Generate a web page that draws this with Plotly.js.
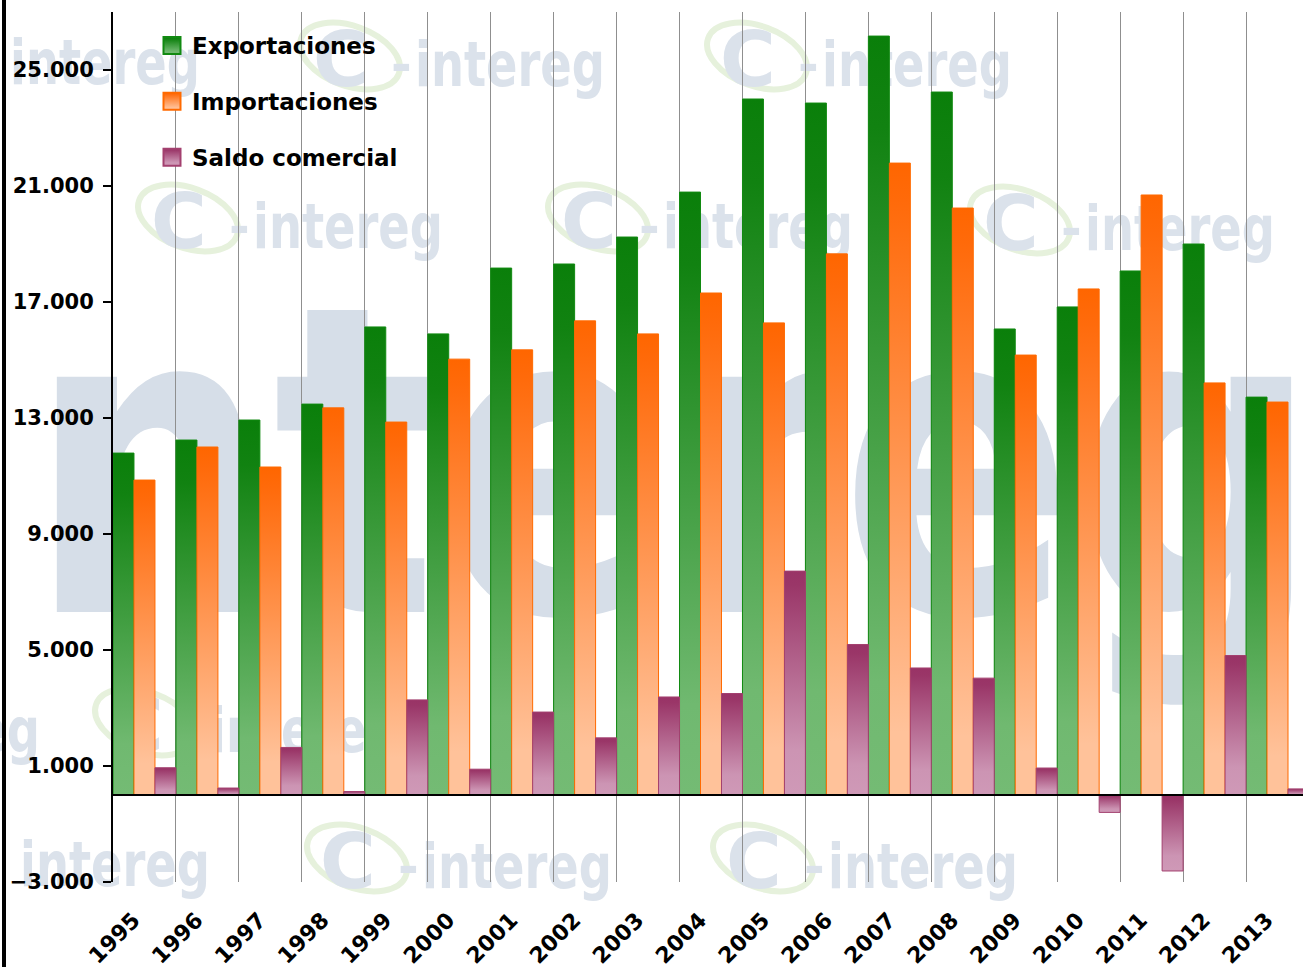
<!DOCTYPE html>
<html>
<head>
<meta charset="utf-8">
<script src="https://cdn.plot.ly/plotly-3.0.1.min.js"></script>
<style>
  html, body { margin: 0; padding: 0; background: #ffffff; }
  #chart { width: 1303px; height: 967px; }
</style>
</head>
<body>
<div id="chart"></div>
<script>
// ---- Data (millones) ----
const years = ['1995','1996','1997','1998','1999','2000','2001','2002','2003','2004',
               '2005','2006','2007','2008','2009','2010','2011','2012','2013'];
const exportaciones = [11790, 12240, 12930, 13480, 16140, 15900, 18170, 18310, 19240, 20790,
                       24000, 23860, 26170, 24240, 16070, 16830, 18070, 19000, 13720];
const importaciones = [10860, 12000, 11310, 13350, 12860, 15030, 15350, 16350, 15900, 17310,
                       16280, 18660, 21790, 20240, 15170, 17450, 20690, 14210, 13550];
const saldo = [940, 240, 1640, 120, 3280, 890, 2860, 1970, 3380, 3500,
               7720, 5190, 4380, 4030, 930, -600, -2620, 4810, 210];
const seriesNames = ['Exportaciones', 'Importaciones', 'Saldo comercial'];
const tickVals = [-3000, 1000, 5000, 9000, 13000, 17000, 21000, 25000];

// ---- styling ----
const gradStops = [
  [['0', '#0a7f0a'], ['0.12', '#118211'], ['0.85', '#70b970'], ['1', '#74bb74']],
  [['0', '#ff6600'], ['0.06', '#ff6a0a'], ['0.9', '#ffc29a'], ['1', '#ffc29a']],
  [['0', '#993366'], ['0.06', '#9a3668'], ['0.8', '#cc94b3'], ['1', '#cf99b7']]
];
const solid = ['#3f9a3f', '#ff9555', '#b6668e'];
const edge = ['#118a11', '#ff6a00', '#a3406f'];

const W = 1303, H = 967, L = 113, R = 0, T = 12, B = 85;
const pw = W - L - R, ph = H - T - B;
const FONT = 'Verdana, DejaVu Sans, sans-serif';

// watermark (background logo text)
const wmCol = '#dbe2eb';
function wm(x, y, withC) {
  let s = '';
  if (withC) {
    s += `<ellipse cx='${x+45}' cy='${y-30}' rx='52' ry='30' fill='none' stroke='#e6f1dc' stroke-width='6' transform='rotate(20 ${x+45} ${y-30})'/>`;
    s += `<text x='${x+8}' y='${y}' font-family='DejaVu Sans' font-weight='bold' font-size='76' fill='${wmCol}'>C</text>`;
    s += `<text x='${x+86}' y='${y-4}' font-family='DejaVu Sans' font-weight='bold' font-size='50' fill='${wmCol}'>-</text>`;
    x += 110;
  }
  s += `<text x='${x}' y='${y}' font-family='DejaVu Sans' font-weight='bold' font-size='62' fill='${wmCol}' textLength='190' lengthAdjust='spacingAndGlyphs'>intereg</text>`;
  return s;
}
let svg = `<svg xmlns='http://www.w3.org/2000/svg' width='${W}' height='${H}' viewBox='0 0 ${W} ${H}'>`;
svg += `<text x='-90' y='612' font-family='DejaVu Sans' font-weight='bold' font-size='430' fill='#d6dee8' textLength='1410' lengthAdjust='spacingAndGlyphs'>intereg</text>`;
svg += wm(10, 84, false) + wm(305, 86, true) + wm(712, 86, true);
svg += wm(143, 248, true) + wm(553, 248, true) + wm(975, 250, true);
svg += wm(-150, 752, false) + wm(100, 752, true);
svg += wm(20, 886, false) + wm(312, 888, true) + wm(718, 888, true);
svg += `</svg>`;
const wmSrc = 'data:image/svg+xml;charset=utf-8,' + encodeURIComponent(svg);

const traces = [exportaciones, importaciones, saldo].map((vals, i) => ({
  type: 'bar',
  name: seriesNames[i],
  x: years,
  y: vals,
  legendgroup: 'g' + i,
  marker: { color: solid[i], line: { color: edge[i], width: 1 } },
  hoverinfo: 'x+y+name'
}));

const layout = {
  width: W, height: H,
  margin: { l: L, r: R, t: T, b: B, pad: 0 },
  paper_bgcolor: '#ffffff',
  plot_bgcolor: 'rgba(0,0,0,0)',
  barmode: 'group',
  bargap: 0,
  bargroupgap: 0,
  separators: ',.',
  font: { family: FONT, color: '#000000' },
  showlegend: true,
  legend: {
    x: (152 - L) / pw, y: (H - B - 24) / ph,
    xanchor: 'left', yanchor: 'top',
    bgcolor: 'rgba(0,0,0,0)',
    font: { size: 23, family: FONT, weight: 'bold', color: '#000' },
    tracegroupgap: 23,
    itemsizing: 'constant'
  },
  xaxis: {
    type: 'category',
    range: [-0.5, 18.5 - 6 / 63],
    tickson: 'boundaries',
    tickvals: years,
    ticktext: years.map(y => y + '\u00A0\u00A0'),
    showgrid: true, gridcolor: '#8f8f8f', gridwidth: 1,
    ticks: '', showline: false, zeroline: false,
    tickangle: -45,
    ticklabelstandoff: 9,
    tickfont: { size: 22, family: FONT, weight: 'bold', color: '#000' },
    fixedrange: true
  },
  yaxis: {
    range: [-3000, 27000],
    tickvals: tickVals,
    tickformat: ',d',
    showgrid: false,
    zeroline: false,
    showline: true, linecolor: '#000000', linewidth: 2,
    ticks: 'outside', ticklen: 8, tickcolor: '#000', tickwidth: 1.5,
    ticklabelstandoff: 5,
    tickfont: { size: 21, family: FONT, weight: 'bold', color: '#000' },
    fixedrange: true
  },
  images: [{
    source: wmSrc, xref: 'paper', yref: 'paper',
    x: -L / pw, y: 1 + T / ph, sizex: W / pw, sizey: H / ph,
    xanchor: 'left', yanchor: 'top', sizing: 'stretch', layer: 'below', opacity: 1
  }],
  shapes: [
    { type: 'line', xref: 'paper', yref: 'paper',
      x0: (4 - L) / pw, x1: (4 - L) / pw, y0: -B / ph, y1: 1 + T / ph,
      line: { color: '#000', width: 4 } },
    { type: 'line', xref: 'paper', yref: 'y', layer: 'above',
      x0: 0, x1: 1, y0: 0, y1: 0,
      line: { color: '#000', width: 2 } }
  ]
};

const gd = document.getElementById('chart');

function applyGradients() {
  const svgEl = gd.querySelector('svg.main-svg');
  if (!svgEl) return;
  let defs = svgEl.querySelector('defs');
  if (!defs) {
    defs = document.createElementNS('http://www.w3.org/2000/svg', 'defs');
    svgEl.insertBefore(defs, svgEl.firstChild);
  }
  gradStops.forEach((stops, i) => {
    const id = 'barGrad' + i;
    if (!document.getElementById(id)) {
      const lg = document.createElementNS('http://www.w3.org/2000/svg', 'linearGradient');
      lg.setAttribute('id', id);
      lg.setAttribute('x1', '0'); lg.setAttribute('y1', '0');
      lg.setAttribute('x2', '0'); lg.setAttribute('y2', '1');
      stops.forEach(([off, col]) => {
        const st = document.createElementNS('http://www.w3.org/2000/svg', 'stop');
        st.setAttribute('offset', off);
        st.setAttribute('stop-color', col);
        lg.appendChild(st);
      });
      defs.appendChild(lg);
    }
  });
  gd.querySelectorAll('.barlayer .trace').forEach((tr, i) => {
    tr.querySelectorAll('.point path').forEach(p => { p.style.fill = `url(#barGrad${i % 3})`; });
  });
  gd.querySelectorAll('.legend .traces').forEach((tr, i) => {
    tr.querySelectorAll('.legendpoints path').forEach(p => {
      p.setAttribute('d', 'M8.5,8.5H-8.5V-8.5H8.5Z');
      p.style.fill = `url(#barGrad${i % 3})`;
    });
  });
}

Plotly.newPlot(gd, traces, layout, { displayModeBar: false, staticPlot: true }).then(() => {
  applyGradients();
  gd.on && gd.on('plotly_afterplot', applyGradients);
});
</script>
</body>
</html>
